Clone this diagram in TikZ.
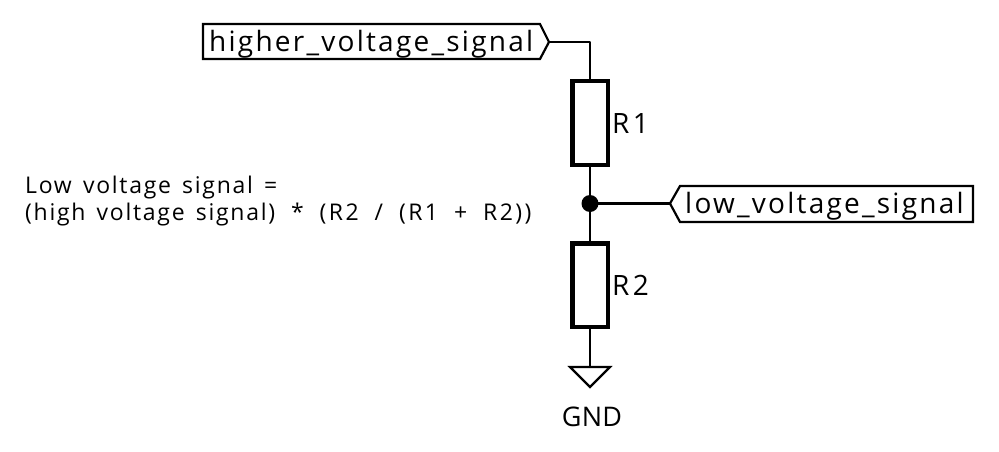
\documentclass[tikz,border=0pt]{standalone}
\usepackage{fontspec}
\setmainfont{Open Sans}[LetterSpace=8]
\newfontfamily\notefont{Open Sans}[LetterSpace=7.5,WordSpace=1.45]
\newfontfamily\notewide{Open Sans}[LetterSpace=10.5,WordSpace=1.9]
\newfontfamily\gndfont{Open Sans}[LetterSpace=1]
\newfontfamily\reffont{Open Sans}[LetterSpace=12]
\begin{document}
\begin{tikzpicture}[x=1pt,y=-1pt,
  wire/.style={line width=2.2pt,line cap=round,line join=round},
  resistor/.style={draw,line width=4.5pt,fill=white,minimum width=35.5pt,minimum height=83.5pt,inner sep=0pt,line join=miter},
  flag/.style={draw,line width=2.2pt,line join=miter,fill=white},
  labeltext/.style={inner sep=0pt,anchor=base west,font=\fontsize{28}{28}\selectfont},
  reftext/.style={inner sep=0pt,anchor=base west,font=\reffont\fontsize{28}{28}\selectfont},
  gndtext/.style={inner sep=0pt,anchor=base,font=\gndfont\fontsize{27}{27}\selectfont},
  notetext/.style={inner sep=0pt,anchor=base west,font=\notefont\fontsize{23}{23}\selectfont}]
\useasboundingbox (0,0) rectangle (999,452);
\draw[flag] (203,24) -- (540,24) -- (549,42) -- (540,59) -- (203,59) -- cycle;
\coordinate (hitip) at (549,42);
\node[labeltext] (hilabel) at (209,52) {higher\_voltage\_signal};
\draw[flag] (670,203.5) -- (680,186) -- (973,186) -- (973,222) -- (680,222) -- cycle;
\coordinate (lotip) at (670,203.5);
\node[labeltext] (lolabel) at (685,213) {low\_voltage\_signal};
\node[resistor] (r1) at (590,123) {};
\node[resistor] (r2) at (590,285) {};
\node[circle,fill=black,inner sep=0pt,minimum size=17pt] (j) at (590,203.5) {};
\coordinate (corner) at (590,42);
\coordinate (gndtop) at (590,367);
\draw[wire] (hitip) -- (corner) -- (r1.north);
\draw[wire] (r1.south) -- (j.center) -- (r2.north);
\draw[wire] (j.center) -- (lotip);
\draw[wire] (r2.south) -- (gndtop);
\draw[wire,line join=miter] (570,367) -- (610,367) -- (590,387) -- cycle;
\node[reftext] (r1label) at (612,133) {R1};
\node[reftext] (r2label) at (612,295) {R2};
\node[gndtext] (gndlabel) at (592,426) {GND};
\node[notetext] (note1) at (25,193) {Low voltage signal =};
\node[notetext] (note2) at (25,220) {(high voltage signal){\notewide\fontsize{23}{23}\selectfont{} * (R2 / (R1 + R2))}};
\end{tikzpicture}
\end{document}
